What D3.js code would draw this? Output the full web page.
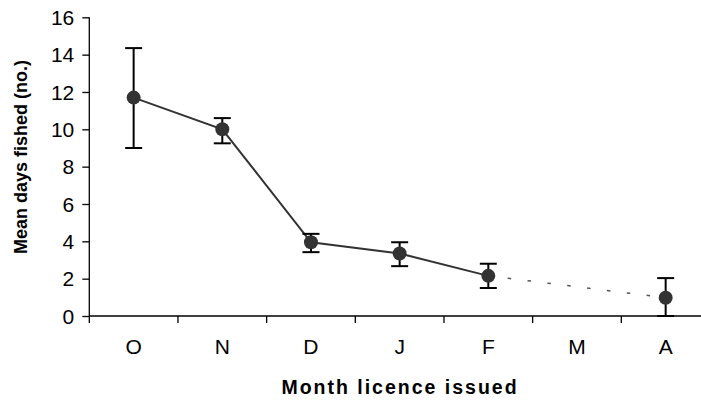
<!DOCTYPE html>
<html>
<head>
<meta charset="utf-8">
<script src="https://cdn.jsdelivr.net/npm/d3@7"></script>
<style>
  html, body { margin: 0; padding: 0; background: #fff; }
  svg { display: block; font-family: "Liberation Sans", Arial, sans-serif; }
</style>
</head>
<body>
<svg id="chart" width="701" height="402"></svg>
<script>
// Mean days fished by month the licence was issued (no licences issued in March)
const months = ["O", "N", "D", "J", "F", "M", "A"];
const meanDays = [11.7, 10.0, 3.95, 3.35, 2.15, null, 0.98];
const upperBound = [14.35, 10.6, 4.4, 3.95, 2.8, null, 2.03];
const lowerBound = [9.0, 9.25, 3.42, 2.67, 1.5, null, 0.0];
const yTicks = [0, 2, 4, 6, 8, 10, 12, 14, 16];

(function () {
  const svg = d3.select("#chart");
  const plotLeft = 89.3, plotBottom = 316, plotTop = 17.3;
  const band = 88.67;

  const x = d3.scaleBand().domain(months).range([plotLeft, plotLeft + band * months.length]).paddingInner(0).paddingOuter(0);
  const y = d3.scaleLinear().domain([0, 16]).range([plotBottom, plotTop]);
  const cx = m => x(m) + x.bandwidth() / 2;

  const pts = months.map((m, i) => ({ m, v: meanDays[i], hi: upperBound[i], lo: lowerBound[i] }))
    .filter(d => d.v !== null);

  // Axes
  const yAxis = svg.append("g").attr("transform", `translate(${plotLeft},0)`)
    .call(d3.axisLeft(y).tickValues(yTicks).tickSize(7).tickPadding(8).tickFormat(d3.format("d")));
  const xAxis = svg.append("g").attr("transform", `translate(0,${plotBottom})`)
    .call(d3.axisBottom(x).tickSize(7).tickPadding(16));

  [yAxis, xAxis].forEach(g => {
    g.select(".domain").attr("stroke", "#000").attr("stroke-width", 1.3);
    g.selectAll(".tick line").attr("stroke", "#000").attr("stroke-width", 1.3);
    g.selectAll(".tick text").attr("fill", "#000").style("font-size", "21px")
      .style("font-family", "'Liberation Sans', Arial, sans-serif");
  });
  // x ticks sit on the category boundaries rather than the centres
  xAxis.selectAll(".tick").attr("transform", d => `translate(${x(d)},0)`);
  xAxis.selectAll(".tick text").attr("x", x.bandwidth() / 2);
  xAxis.select(".domain").attr("d", `M${plotLeft},0H${plotLeft + band * months.length}`);
  yAxis.select(".domain").attr("d", `M0,${y(16)}V${plotBottom}`);
  yAxis.selectAll(".tick text").attr("dy", "0.34em");

  // Solid line through consecutive months, dashed across the missing month
  const solidPts = pts.filter(d => months.indexOf(d.m) <= months.indexOf("F"));
  const line = d3.line().x(d => cx(d.m)).y(d => y(d.v));
  svg.append("path").datum(solidPts).attr("d", line)
    .attr("fill", "none").attr("stroke", "#333").attr("stroke-width", 2);

  const gapPts = pts.filter(d => d.m === "F" || d.m === "A");
  svg.append("path").datum(gapPts).attr("d", line)
    .attr("fill", "none").attr("stroke", "#555").attr("stroke-width", 1.5)
    .attr("stroke-dasharray", "3.5 16.5").attr("stroke-dashoffset", 0.5);

  // Error bars
  const cap = 8.5;
  const eb = svg.append("g").attr("stroke", "#000").attr("stroke-width", 2);
  pts.forEach(d => {
    const xc = cx(d.m);
    eb.append("line").attr("x1", xc).attr("x2", xc).attr("y1", y(d.hi)).attr("y2", y(d.lo));
    eb.append("line").attr("x1", xc - cap).attr("x2", xc + cap).attr("y1", y(d.hi)).attr("y2", y(d.hi));
    eb.append("line").attr("x1", xc - cap).attr("x2", xc + cap).attr("y1", y(d.lo)).attr("y2", y(d.lo));
  });

  // Markers
  svg.append("g").selectAll("circle").data(pts).join("circle")
    .attr("cx", d => cx(d.m)).attr("cy", d => y(d.v)).attr("r", 7)
    .attr("fill", "#333");

  // Axis titles
  svg.append("text").attr("x", 400).attr("y", 394).attr("text-anchor", "middle")
    .style("font-size", "19.5px").style("font-weight", "bold").style("letter-spacing", "2px")
    .text("Month licence issued");
  svg.append("text").attr("transform", "translate(27,157) rotate(-90)").attr("text-anchor", "middle")
    .style("font-size", "18px").style("font-weight", "bold")
    .text("Mean days fished (no.)");
})();
</script>
</body>
</html>
